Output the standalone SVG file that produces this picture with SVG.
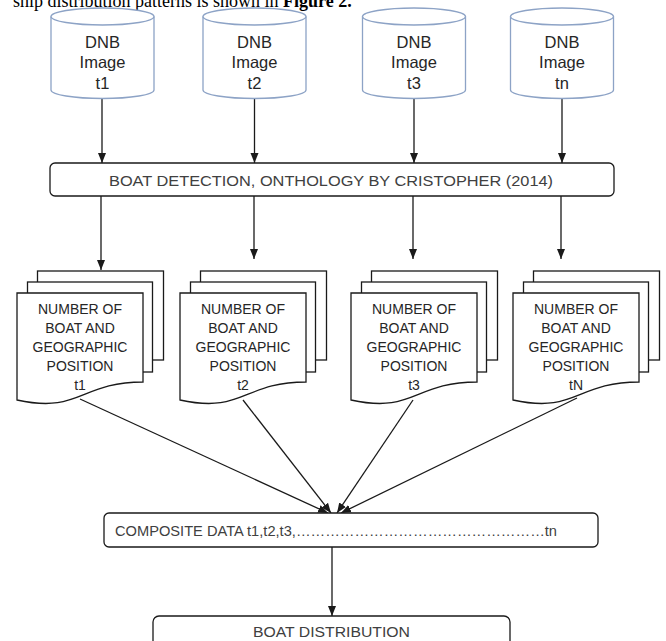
<svg xmlns="http://www.w3.org/2000/svg" width="666" height="641" viewBox="0 0 666 641">
<style>
.cyl{fill:#fff;stroke:#8DA3C6;stroke-width:1.3}
.box{fill:#fff;stroke:#1a1a1a;stroke-width:1.3}
.pg{fill:#fff;stroke:#1a1a1a;stroke-width:1.3}
.cal{font-family:"Liberation Sans",Arial,sans-serif;fill:#262626;text-anchor:middle}
.cyt{font-size:16.5px}
.dct{font-size:14px}
.got{font-family:"Liberation Sans",Arial,sans-serif;fill:#404040;font-size:14.5px;text-anchor:middle}
.gotl{font-family:"Liberation Sans",Arial,sans-serif;fill:#404040;font-size:15px}
.cap{font-family:"Liberation Serif","Times New Roman",serif;font-size:18px;fill:#000}
.ln{fill:none;stroke:#1a1a1a;stroke-width:1.3;marker-end:url(#ah)}
</style>
<defs>
<marker id="ah" markerUnits="userSpaceOnUse" markerWidth="10" markerHeight="10" viewBox="0 0 10 10" refX="10" refY="5" orient="auto">
<path d="M0,1 L10,5 L0,9 Z" fill="#1a1a1a"/>
</marker>
</defs>
<rect width="666" height="641" fill="#fff"/>
<text class="cap" x="13" y="6.5">ship distribution patterns is shown in <tspan font-weight="bold">Figure 2.</tspan></text>

<g id="connectors">
<line class="ln" x1="102" y1="98" x2="102" y2="163"/>
<line class="ln" x1="254.5" y1="98" x2="254.5" y2="163"/>
<line class="ln" x1="414" y1="98" x2="414" y2="163"/>
<line class="ln" x1="562" y1="98" x2="562" y2="163"/>
<line class="ln" x1="101" y1="191" x2="101" y2="270"/>
<line class="ln" x1="254" y1="196" x2="254" y2="259"/>
<line class="ln" x1="413" y1="196" x2="413" y2="259"/>
<line class="ln" x1="561" y1="196" x2="561" y2="259"/>
<line class="ln" x1="332" y1="547" x2="332" y2="616"/>
</g>

<g id="db1">
<path class="cyl" d="M51,16.5 V90 A51.5,8.5 0 0 0 154,90 V16.5"/>
<ellipse class="cyl" cx="102.5" cy="16.5" rx="51.5" ry="8.5"/>
<text class="cal cyt" x="102.5" y="47.5">DNB</text>
<text class="cal cyt" x="102.5" y="68">Image</text>
<text class="cal cyt" x="102.5" y="88.5">t1</text>
</g>
<g id="db2">
<path class="cyl" d="M203,16.5 V90 A51.5,8.5 0 0 0 306,90 V16.5"/>
<ellipse class="cyl" cx="254.5" cy="16.5" rx="51.5" ry="8.5"/>
<text class="cal cyt" x="254.5" y="47.5">DNB</text>
<text class="cal cyt" x="254.5" y="68">Image</text>
<text class="cal cyt" x="254.5" y="88.5">t2</text>
</g>
<g id="db3">
<path class="cyl" d="M362.5,16.5 V90 A51.5,8.5 0 0 0 465.5,90 V16.5"/>
<ellipse class="cyl" cx="414" cy="16.5" rx="51.5" ry="8.5"/>
<text class="cal cyt" x="414" y="47.5">DNB</text>
<text class="cal cyt" x="414" y="68">Image</text>
<text class="cal cyt" x="414" y="88.5">t3</text>
</g>
<g id="db4">
<path class="cyl" d="M510.5,16.5 V90 A51.5,8.5 0 0 0 613.5,90 V16.5"/>
<ellipse class="cyl" cx="562" cy="16.5" rx="51.5" ry="8.5"/>
<text class="cal cyt" x="562" y="47.5">DNB</text>
<text class="cal cyt" x="562" y="68">Image</text>
<text class="cal cyt" x="562" y="88.5">tn</text>
</g>

<g id="detection">
<rect class="box" x="50" y="163" width="564" height="33" rx="5"/>
<text class="got" x="331" y="185.5" textLength="444" lengthAdjust="spacingAndGlyphs">BOAT DETECTION, ONTHOLOGY BY CRISTOPHER (2014)</text>
</g>

<g id="doc1">
<rect class="pg" x="37.5" y="271" width="126" height="89"/>
<rect class="pg" x="27.5" y="282" width="125" height="90"/>
<path class="pg" d="M17,293 H143 V382 C80,382 80,414 17,400 Z"/>
<text class="cal dct" x="80" y="314">NUMBER OF</text>
<text class="cal dct" x="80" y="333">BOAT AND</text>
<text class="cal dct" x="80" y="352">GEOGRAPHIC</text>
<text class="cal dct" x="80" y="371">POSITION</text>
<text class="cal dct" x="80" y="390">t1</text>
</g>
<g id="doc2">
<rect class="pg" x="200.5" y="271" width="126" height="89"/>
<rect class="pg" x="190.5" y="282" width="125" height="90"/>
<path class="pg" d="M180,293 H306 V382 C243,382 243,414 180,400 Z"/>
<text class="cal dct" x="243" y="314">NUMBER OF</text>
<text class="cal dct" x="243" y="333">BOAT AND</text>
<text class="cal dct" x="243" y="352">GEOGRAPHIC</text>
<text class="cal dct" x="243" y="371">POSITION</text>
<text class="cal dct" x="243" y="390">t2</text>
</g>
<g id="doc3">
<rect class="pg" x="371.5" y="271" width="126" height="89"/>
<rect class="pg" x="361.5" y="282" width="125" height="90"/>
<path class="pg" d="M351,293 H477 V382 C414,382 414,414 351,400 Z"/>
<text class="cal dct" x="414" y="314">NUMBER OF</text>
<text class="cal dct" x="414" y="333">BOAT AND</text>
<text class="cal dct" x="414" y="352">GEOGRAPHIC</text>
<text class="cal dct" x="414" y="371">POSITION</text>
<text class="cal dct" x="414" y="390">t3</text>
</g>
<g id="doc4">
<rect class="pg" x="533.5" y="271" width="126" height="89"/>
<rect class="pg" x="523.5" y="282" width="125" height="90"/>
<path class="pg" d="M513,293 H639 V382 C576,382 576,414 513,400 Z"/>
<text class="cal dct" x="576" y="314">NUMBER OF</text>
<text class="cal dct" x="576" y="333">BOAT AND</text>
<text class="cal dct" x="576" y="352">GEOGRAPHIC</text>
<text class="cal dct" x="576" y="371">POSITION</text>
<text class="cal dct" x="576" y="390">tN</text>
</g>

<g id="connectors2">
<line class="ln" x1="80" y1="399" x2="328" y2="513"/>
<line class="ln" x1="243" y1="400" x2="331" y2="513"/>
<line class="ln" x1="413" y1="400" x2="337" y2="513"/>
<line class="ln" x1="577" y1="398" x2="341" y2="513"/>
</g>

<g id="composite">
<rect class="box" x="104" y="513" width="494" height="34" rx="5"/>
<text class="gotl" x="115" y="535.5" textLength="442" lengthAdjust="spacingAndGlyphs">COMPOSITE DATA t1,t2,t3,……………………………………………tn</text>
</g>

<g id="distribution">
<rect class="box" x="153" y="616" width="357" height="40" rx="6"/>
<text class="got" x="331.5" y="637" textLength="157" lengthAdjust="spacingAndGlyphs">BOAT DISTRIBUTION</text>
</g>
</svg>
